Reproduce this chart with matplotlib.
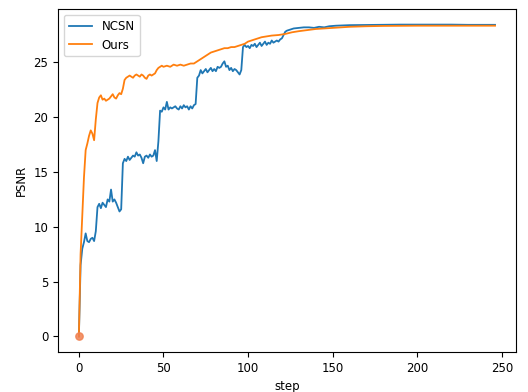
import matplotlib
matplotlib.use("Agg")
import matplotlib.pyplot as plt

# NCSN curve (step, PSNR)
ncsn_steps = [0, 1, 2, 3, 4, 5, 6, 7, 8, 9, 10, 11, 12, 13, 14, 15, 16, 17, 18, 19,
              20, 21, 22, 23, 24, 25, 26, 27, 28, 29, 30, 31, 32, 33, 34, 35, 36, 37, 38, 39,
              40, 41, 42, 43, 44, 45, 46, 47, 48, 49, 50, 51, 52, 53, 54, 55, 56, 57, 58, 59,
              60, 61, 62, 63, 64, 65, 66, 67, 68, 69, 70, 71, 72, 73, 74, 75, 76, 77, 78, 79,
              80, 81, 82, 83, 84, 85, 86, 87, 88, 89, 90, 91, 92, 93, 94, 95, 96, 97, 98, 99,
              100, 101, 102, 103, 104, 105, 106, 107, 108, 109, 110, 111, 112, 113, 114, 115,
              116, 117, 118, 119, 120, 121, 122, 123, 125, 127, 130, 133, 136, 139, 142, 145,
              148, 152, 160, 170, 180, 190, 200, 210, 220, 230, 240, 246]
ncsn_psnr = [0.0, 6.5, 8.0, 8.6, 9.4, 8.7, 8.6, 8.9, 9.0, 8.7, 9.6, 11.8, 12.1, 11.7, 12.2, 12.0, 11.8, 12.5, 12.3, 13.4,
             12.3, 12.5, 12.2, 11.8, 11.4, 11.6, 15.8, 16.2, 16.0, 16.4, 16.1, 16.3, 16.5, 16.4, 16.8, 16.5, 16.6, 16.3, 15.8, 16.4,
             16.5, 16.3, 16.6, 16.4, 16.5, 17.0, 16.0, 17.8, 20.6, 20.5, 20.9, 20.7, 21.4, 20.7, 20.9, 20.8, 20.9, 21.0, 20.8, 20.7,
             21.0, 20.8, 21.1, 20.9, 21.0, 20.7, 21.0, 20.8, 21.1, 21.2, 23.6, 23.8, 24.3, 24.0, 24.2, 24.4, 24.1, 24.3, 24.5, 24.2,
             24.4, 24.2, 24.6, 24.5, 24.6, 24.9, 25.1, 24.6, 24.7, 24.3, 24.5, 24.2, 24.4, 24.3, 24.1, 23.9, 24.3, 26.4, 26.6, 26.4,
             26.5, 26.3, 26.6, 26.5, 26.7, 26.4, 26.6, 26.8, 26.5, 26.7, 26.9, 26.6, 26.8, 26.7, 27.0, 26.8,
             26.9, 27.0, 26.9, 27.1, 27.2, 27.5, 27.8, 27.9, 28.0, 28.1, 28.15, 28.2, 28.2, 28.15, 28.25, 28.2,
             28.3, 28.35, 28.4, 28.42, 28.45, 28.45, 28.45, 28.45, 28.45, 28.43, 28.43, 28.43]

# Ours
ours_steps = [0, 1, 2, 3, 4, 5, 6, 7, 8, 9, 10, 11, 12, 13, 14, 15, 16, 17, 18, 19,
              20, 21, 22, 23, 24, 25, 26, 27, 28, 29, 30, 31, 32, 33, 34, 35, 36, 37, 38, 39,
              40, 41, 42, 43, 44, 45, 46, 47, 48, 49, 50, 52, 54, 56, 58, 60, 62, 64, 66, 68,
              70, 72, 74, 76, 78, 80, 82, 84, 86, 88, 90, 92, 94, 96, 98, 100, 102, 104, 106, 108,
              110, 114, 118, 122, 126, 130, 135, 140, 145, 150, 160, 170, 180, 200, 220, 246]
ours_psnr = [0.0, 7.5, 11.0, 14.5, 17.0, 17.6, 18.3, 18.8, 18.5, 17.9, 19.8, 21.3, 21.8, 22.0, 21.6, 21.7, 21.5, 21.6, 21.7, 21.9,
             22.1, 21.8, 21.7, 22.0, 22.2, 22.1, 22.6, 23.4, 23.6, 23.7, 23.8, 23.7, 23.6, 23.8, 23.9, 23.8, 23.7, 23.9, 23.8, 23.6,
             23.5, 23.8, 23.9, 23.8, 23.9, 24.0, 24.3, 24.5, 24.6, 24.7, 24.6, 24.7, 24.6, 24.8, 24.7, 24.8, 24.7, 24.8, 24.9, 24.9,
             25.1, 25.3, 25.5, 25.7, 25.9, 26.0, 26.1, 26.2, 26.3, 26.3, 26.4, 26.4, 26.5, 26.6, 26.7, 26.9, 27.0, 27.1, 27.2, 27.3,
             27.35, 27.45, 27.5, 27.6, 27.75, 27.85, 27.95, 28.05, 28.1, 28.15, 28.25, 28.3, 28.33, 28.35, 28.35, 28.35]

plt.rcParams['font.size'] = 8.5

fig, ax = plt.subplots(figsize=(5.28, 3.92), dpi=100)
fig.subplots_adjust(left=0.11, right=0.977, bottom=0.102, top=0.977)

ax.plot(ncsn_steps, ncsn_psnr, color='#1f77b4', lw=1.3, label='NCSN')
ax.plot(ours_steps, ours_psnr, color='#ff7f0e', lw=1.3, label='Ours')
# starting point marker
ax.scatter([ours_steps[0]], [ours_psnr[0]], s=28, color='#f08050', alpha=0.85, zorder=3)

ax.set_xlabel('step')
ax.set_ylabel('PSNR')
ax.legend(loc='upper left')

fig.savefig('out.png', dpi=100)
